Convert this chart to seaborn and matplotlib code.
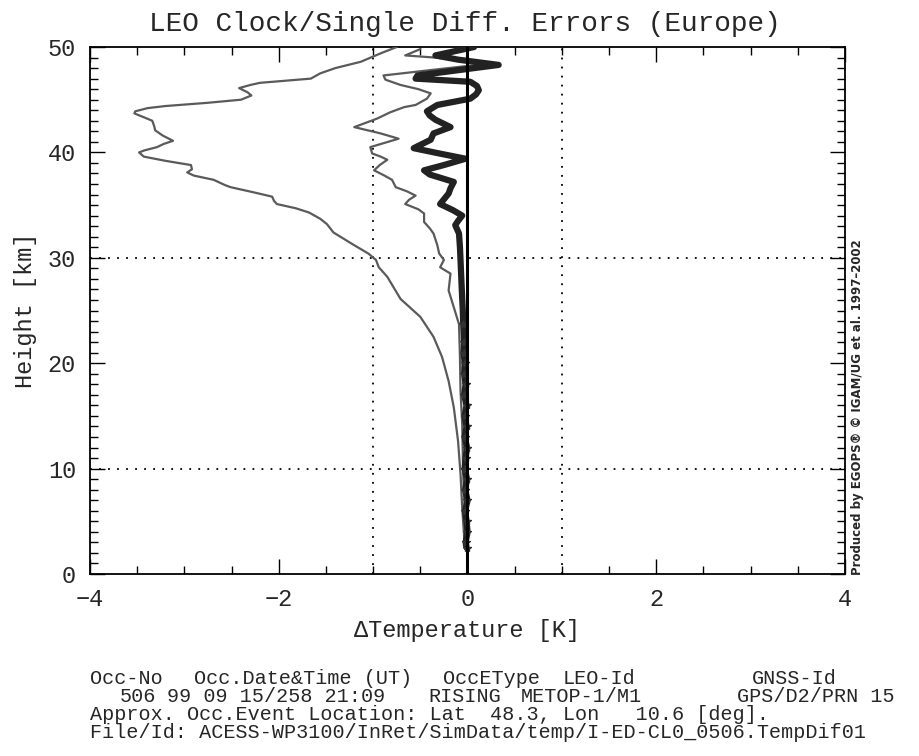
import numpy as np
import pandas as pd
import matplotlib
matplotlib.use("Agg")
import matplotlib.pyplot as plt
import seaborn as sns

# ---------------- data ----------------
height_a = [50.0, 49.4, 48.6, 48.0, 47.5, 47.0, 46.6, 46.4, 46.1, 45.7, 45.4, 45.0,
            44.7, 44.4, 44.2, 43.9, 43.7, 43.3, 43.0, 42.5, 42.1, 41.6, 41.1, 40.8,
            40.5, 40.2, 40.0, 39.6, 39.2, 38.8, 38.4, 38.1, 37.8, 37.4, 36.9, 36.7,
            36.2, 35.8, 35.4, 35.1, 34.7, 34.3, 33.7, 33.2, 32.4, 31.3, 30.4, 29.8,
            29.1, 28.2, 27.9, 26.1, 24.4, 22.5, 20.6, 18.3, 15.8, 12.6, 9.5, 6.3, 2.8]
dtemp_a = [-0.75, -0.92, -1.13, -1.40, -1.56, -1.66, -2.20, -2.30, -2.42, -2.33, -2.29, -2.40,
           -2.76, -3.20, -3.39, -3.52, -3.53, -3.42, -3.34, -3.32, -3.31, -3.23, -3.12, -3.22,
           -3.29, -3.42, -3.48, -3.43, -3.20, -2.93, -2.92, -2.97, -2.90, -2.69, -2.57, -2.51,
           -2.26, -2.07, -2.05, -2.02, -1.82, -1.68, -1.56, -1.49, -1.42, -1.22, -1.05, -0.97,
           -0.94, -0.85, -0.83, -0.71, -0.50, -0.36, -0.27, -0.20, -0.145, -0.10, -0.074, -0.056, -0.03]

height_b = [49.8, 49.2, 49.0, 48.6, 48.3, 47.8, 47.3, 46.9, 46.4, 46.0, 45.6, 45.1,
            44.5, 44.3, 43.8, 43.2, 42.8, 42.4, 41.8, 41.3, 40.9, 40.5, 39.9, 39.6,
            39.3, 38.8, 38.3, 37.8, 37.4, 36.7, 36.3, 35.9, 35.5, 35.1, 34.6, 34.2,
            33.4, 32.8, 32.3, 31.2, 30.4, 29.8, 29.1, 28.5, 26.9, 25.3, 23.7, 20.6,
            17.4, 14.2, 9.5, 6.3, 2.8]
dtemp_b = [-0.50, -0.66, -0.35, 0.05, 0.10, -0.40, -0.89, -0.87, -0.71, -0.52, -0.39, -0.43,
           -0.55, -0.67, -0.82, -0.96, -1.08, -1.20, -0.92, -0.73, -0.88, -1.03, -1.01, -0.92,
           -0.85, -0.93, -0.99, -0.88, -0.80, -0.76, -0.64, -0.55, -0.62, -0.66, -0.52, -0.46,
           -0.46, -0.40, -0.36, -0.32, -0.30, -0.25, -0.29, -0.18, -0.20, -0.145, -0.09, -0.08,
           -0.074, -0.056, -0.046, -0.03, -0.02]

height_c = [50.0, 49.2, 48.8, 48.3, 47.8, 47.3, 47.0, 46.7, 46.3, 45.9, 45.5, 45.1,
            44.5, 43.9, 43.5, 43.1, 42.4, 41.8, 41.2, 40.8, 40.4, 39.9, 39.4, 38.8,
            38.3, 37.9, 37.2, 36.6, 36.1, 35.1, 34.5, 34.0, 33.5, 33.1, 32.3, 31.0,
            30.0, 27.9, 26.9, 25.0, 23.7, 22.0, 21.0, 20.0, 19.0, 18.0, 17.0, 16.0,
            15.0, 14.0, 13.0, 12.0, 11.0, 10.0, 9.0, 8.0, 7.0, 6.0, 5.0, 4.0, 3.0, 2.5]
dtemp_c = [0.07, -0.34, -0.10, 0.33, -0.10, -0.53, -0.55, 0.03, 0.10, 0.12, 0.09, 0.03,
           -0.32, -0.43, -0.40, -0.34, -0.18, -0.36, -0.39, -0.48, -0.57, -0.30, -0.02, -0.25,
           -0.46, -0.40, -0.145, -0.18, -0.20, -0.29, -0.15, -0.056, -0.10, -0.13, -0.09, -0.08,
           -0.075, -0.065, -0.06, -0.05, -0.045, -0.035, -0.04, -0.03, -0.035, -0.02, -0.035, -0.01,
           -0.03, -0.01, -0.03, -0.005, -0.02, -0.03, -0.005, -0.025, 0.0, -0.025, -0.01, 0.0, -0.02, -0.01]

x_ticks = [-4, -2, 0, 2, 4]
y_ticks = [0, 10, 20, 30, 40, 50]

title = "LEO Clock/Single Diff. Errors (Europe)"
xlabel = "\u0394Temperature [K]"
ylabel = "Height [km]"

# ---------------- style ----------------
sns.set_style("ticks")
FONT = ["Liberation Mono", "DejaVu Sans Mono", "DejaVu Sans"]
plt.rcParams["font.family"] = FONT
plt.rcParams["axes.unicode_minus"] = True

fig = plt.figure(figsize=(9.2, 7.56), dpi=100)
ax = fig.add_axes([90 / 920, (756 - 574) / 756, (845 - 90) / 920, (574 - 47) / 756])

df_a = pd.DataFrame({"dT": dtemp_a, "h": height_a})
df_b = pd.DataFrame({"dT": dtemp_b, "h": height_b})
df_c = pd.DataFrame({"dT": dtemp_c, "h": height_c})

# dotted reference grid
for xv in (-1, 1):
    ax.axvline(xv, color="black", linestyle=(0, (1, 4)), linewidth=1.3, zorder=1)
for yv in (10, 30):
    ax.axhline(yv, color="black", linestyle=(0, (1, 4)), linewidth=1.3, zorder=1)

sns.lineplot(data=df_a, x="dT", y="h", sort=False, estimator=None, color="#5a5a5a",
             linewidth=1.6, ax=ax, zorder=3)
sns.lineplot(data=df_b, x="dT", y="h", sort=False, estimator=None, color="#5a5a5a",
             linewidth=1.6, ax=ax, zorder=3)
sns.lineplot(data=df_c, x="dT", y="h", sort=False, estimator=None, color="#222222",
             linewidth=4.5, ax=ax, zorder=4)
low = df_c[df_c["h"] < 25]
ax.plot(low["dT"], low["h"], linestyle="none", marker="*", markersize=6,
        color="#333333", zorder=5)

# zero line
ax.axvline(0, color="black", linewidth=2.2, zorder=6)

ax.set_xlim(-4, 4)
ax.set_ylim(0, 50)
ax.set_xticks(x_ticks)
ax.set_xticklabels([("\u2212" if v < 0 else "") + str(abs(v)) for v in x_ticks])
ax.set_yticks(y_ticks)
ax.set_yticklabels([str(v) for v in y_ticks])
ax.set_xticks(np.arange(-4, 4.01, 0.5), minor=True)
ax.set_yticks(np.arange(0, 50.01, 1), minor=True)
ax.tick_params(which="both", direction="in", top=True, right=True, color="black",
               width=1.0)
ax.tick_params(which="major", length=11, labelsize=17, pad=10)
ax.tick_params(which="minor", length=5.5)
for s in ax.spines.values():
    s.set_color("black")
    s.set_linewidth(1.3)

ax.set_xlabel(xlabel, fontsize=17, labelpad=6)
ax.set_ylabel(ylabel, fontsize=17, labelpad=8)

fig.text(0.5 + 0.005, 1 - 24 / 756, title, ha="center", va="center", fontsize=20)

# bottom info block
info = [
    (90, 679, "Occ-No"), (194, 679, "Occ.Date&Time (UT)"), (443, 679, "OccEType"),
    (563, 679, "LEO-Id"), (752, 679, "GNSS-Id"),
    (120, 697, "506"), (167, 697, "99 09 15/258 21:09"), (428, 697, "RISING"),
    (521, 697, "METOP-1/M1"), (737, 697, "GPS/D2/PRN 15"),
    (90, 715, "Approx. Occ.Event Location: Lat  48.3, Lon   10.6 [deg]."),
    (90, 733, "File/Id: ACESS-WP3100/InRet/SimData/temp/I-ED-CL0_0506.TempDif01"),
]
for px, py, txt in info:
    fig.text(px / 920, 1 - py / 756, txt, ha="left", va="center", fontsize=14.5)

fig.text(858 / 920, 1 - 575 / 756,
         "Produced by EGOPS\u00ae \u00a9 IGAM/UG et al. 1997\u20132002",
         rotation=90, ha="center", va="bottom", fontsize=8.5, fontweight="bold",
         family=["DejaVu Sans"])

fig.savefig("out.png", dpi=100)
